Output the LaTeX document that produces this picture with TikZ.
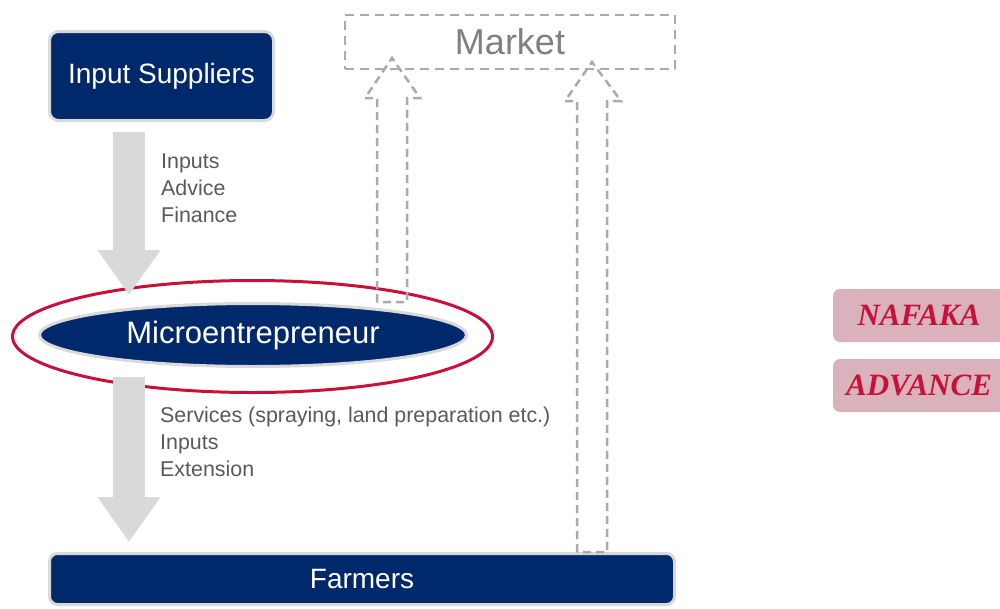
\documentclass[tikz,border=0pt]{standalone}
\usepackage{fontspec}
\setmainfont{Liberation Sans}
\newfontfamily\nameserif{Liberation Serif}
\usetikzlibrary{shapes.geometric,arrows.meta,calc}
\definecolor{navy}{RGB}{0,41,107}
\definecolor{rimgray}{RGB}{217,217,217}
\definecolor{dashgray}{RGB}{170,170,170}
\definecolor{txtgray}{RGB}{89,89,89}
\definecolor{mktgray}{RGB}{128,128,128}
\definecolor{ringred}{RGB}{200,16,56}
\definecolor{tagpink}{RGB}{217,178,187}
\tikzset{
  navybox/.style={rectangle, rounded corners=9pt, fill=navy, draw=rimgray, line width=3pt, text=white, font=\fontsize{28}{33}\selectfont},
  blockarr/.style={draw=rimgray, line width=32pt, -{Triangle[length=45pt, width=60pt, fill=rimgray]}},
  outarr/.style={draw=dashgray, line width=2.5pt, dash pattern=on 8pt off 5pt, line join=miter},
  lbl/.style={text=txtgray, align=left, inner sep=0pt, font=\fontsize{21.4}{27}\selectfont},
  tag/.style={rectangle, rounded corners=7pt, fill=tagpink, minimum width=172pt, minimum height=53pt, text=ringred, font=\nameserif\bfseries\itshape\fontsize{31}{36}\selectfont}
}
\begin{document}
\begin{tikzpicture}[x=1pt,y=-1pt]
\useasboundingbox (0,0) rectangle (1000,608);
\clip (0,0) rectangle (1000,608);
\node[navybox, minimum width=224pt, minimum height=89pt] (sup) at (161.5,76) {Input Suppliers};
\node[draw=dashgray, line width=2.5pt, dash pattern=on 9pt off 6pt, minimum width=330pt, minimum height=54pt, text=mktgray, font=\fontsize{36}{42}\selectfont] (market) at (510,42) {Market};
\node[ellipse, fill=navy, draw=rimgray, line width=3pt, minimum width=427pt, minimum height=63pt, text=white, font=\fontsize{31}{37}\selectfont] (micro) at (253,335) {Microentrepreneur};
\node[ellipse, draw=ringred, line width=3pt, minimum width=480pt, minimum height=112pt] (ring) at (252.5,336.5) {};
\node[navybox, rounded corners=8pt, minimum width=625pt, minimum height=51pt] (farm) at (362,579) {Farmers};
\node[tag] (nafaka) at (919,315.5) {NAFAKA};
\node[tag] (advance) at (919,385.5) {ADVANCE};
\node[lbl, anchor=west] (suplbl) at (161,188) {Inputs\\Advice\\Finance};
\node[lbl, anchor=west] (farmlbl) at (160,442) {Services (spraying, land preparation etc.)\\Inputs\\Extension};
\coordinate (a1) at (129,132);
\coordinate (a2) at (129,377);
\draw[blockarr] (a1) -- ([yshift=7pt]a1 |- micro.north);
\draw[blockarr] (a2) -- ([yshift=10pt]a2 |- farm.north);
\coordinate (u1) at (392,302);
\coordinate (t1) at (392,58);
\draw[outarr] ($(u1)+(-15,0)$) -- ($(t1)+(-15,40)$) -- ($(t1)+(-27,40)$) -- (t1) -- ($(t1)+(28,40)$) -- ($(t1)+(15,40)$) -- ($(u1)+(15,0)$) -- cycle;
\coordinate (u2) at (592,552);
\coordinate (t2) at (592,62);
\draw[outarr] ($(u2)+(-15,0)$) -- ($(t2)+(-15,39)$) -- ($(t2)+(-27,39)$) -- (t2) -- ($(t2)+(29,39)$) -- ($(t2)+(15,39)$) -- ($(u2)+(15,0)$) -- cycle;
\end{tikzpicture}
\end{document}
